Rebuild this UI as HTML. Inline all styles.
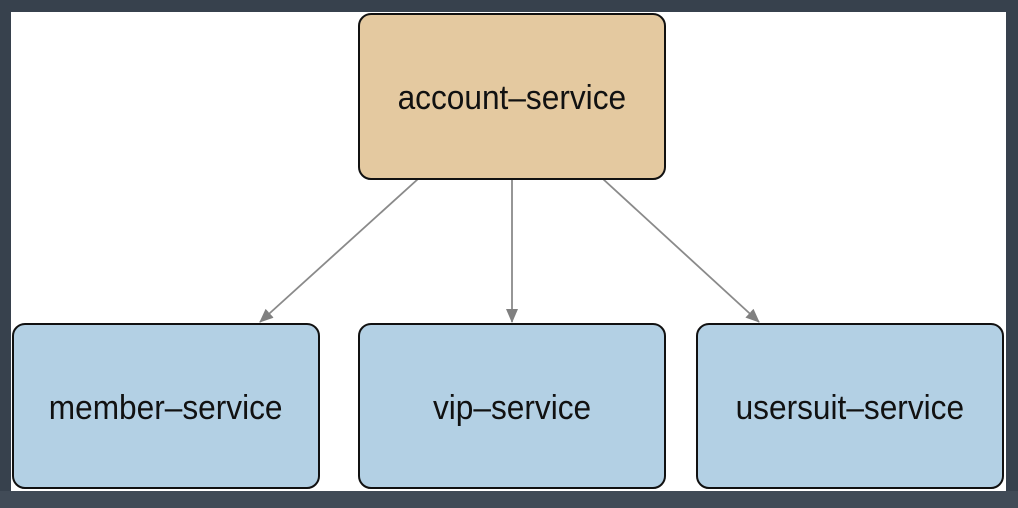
<!DOCTYPE html>
<html><head><style>
html,body{margin:0;padding:0;}
body{width:1018px;height:508px;background:#37414d;position:relative;overflow:hidden;font-family:"Liberation Sans",sans-serif;}
.bot{position:absolute;left:0;top:491px;width:1018px;height:17px;background:#414b57;}
.canvas{position:absolute;left:11px;top:12px;width:995px;height:479px;background:#fff;}
.box{position:absolute;box-sizing:border-box;border:2px solid #111;border-radius:13px;display:flex;align-items:center;justify-content:center;font-size:34px;color:#111;padding-top:4px;}
.box span{display:inline-block;transform:scaleX(0.93);}
.top{background:#e4c9a0;}
.b{background:#b3d0e4;}
</style></head><body>
<div class="bot"></div>
<div class="canvas"></div>
<svg style="position:absolute;left:0;top:0" width="1018" height="508">
<defs><marker id="a" markerWidth="14" markerHeight="12" refX="13" refY="6" orient="auto" markerUnits="userSpaceOnUse"><path d="M0,0 L14,6 L0,12 z" fill="#808080"/></marker></defs>
<g stroke="#8a8a8a" stroke-width="1.8" fill="none">
<line x1="418" y1="179" x2="260" y2="322" marker-end="url(#a)"/>
<line x1="512" y1="179" x2="512" y2="322" marker-end="url(#a)"/>
<line x1="603" y1="179" x2="759" y2="322" marker-end="url(#a)"/>
</g></svg>
<div class="box top" style="left:358px;top:13px;width:308px;height:167px;"><span>account–service</span></div>
<div class="box b" style="left:12px;top:323px;width:308px;height:166px;"><span>member–service</span></div>
<div class="box b" style="left:358px;top:323px;width:308px;height:166px;"><span>vip–service</span></div>
<div class="box b" style="left:696px;top:323px;width:308px;height:166px;"><span>usersuit–service</span></div>
</body></html>
